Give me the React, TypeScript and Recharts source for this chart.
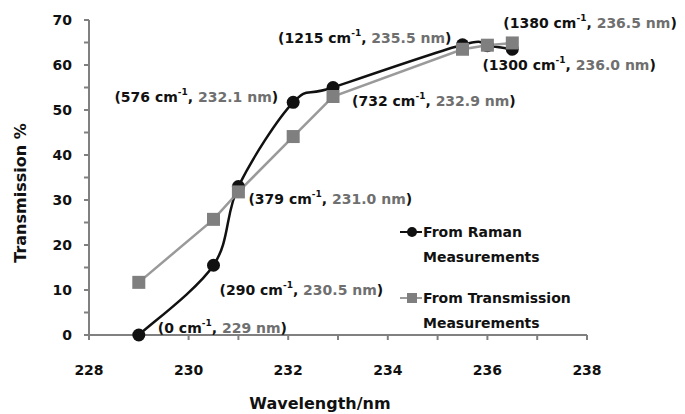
import React from 'react';
import { LineChart, Line, XAxis, YAxis, Legend, LabelList, Label } from 'recharts';

const wavelengths = [229, 230.5, 231.0, 232.1, 232.9, 235.5, 236.0, 236.5];
const wavelengthLabels = ['229', '230.5', '231.0', '232.1', '232.9', '235.5', '236.0', '236.5'];
const wavenumbers = [0, 290, 379, 576, 732, 1215, 1300, 1380];
const ramanValues = [0, 15.5, 33, 51.7, 55, 64.5, 64.3, 63.5];
const transmissionValues = [11.7, 25.7, 31.8, 44.1, 53, 63.5, 64.4, 64.9];
const xTicks = [228, 229, 230, 231, 232, 233, 234, 235, 236, 237, 238];
const yTicks = [0, 5, 10, 15, 20, 25, 30, 35, 40, 45, 50, 55, 60, 65, 70];

const data = wavelengths.map((w, i) => ({
  w,
  raman: ramanValues[i],
  trans: transmissionValues[i],
}));

// annotation placement relative to each Raman point (style only)
const placement = [
  { dx: 19, dy: -7, anchor: 'start' },
  { dx: 6, dy: 25, anchor: 'start' },
  { dx: 10, dy: 12, anchor: 'start' },
  { dx: -15, dy: -5, anchor: 'end' },
  { dx: 19, dy: 13, anchor: 'start' },
  { dx: -11, dy: -7, anchor: 'end' },
  { dx: -5, dy: 19, anchor: 'start' },
  { dx: -9, dy: -26, anchor: 'start' },
];

const FONT = 'DejaVu Sans, sans-serif';
const BLACK = '#111';
const GRAY_TEXT = '#6f6f6f';
const GRAY_MARK = '#7f7f7f';
const GRAY_LINE = '#9a9a9a';
const AXIS = '#808080';

// Excel-like smoothed line (parametric Catmull-Rom / Bezier)
const smoothCurve = (context: any) => {
  let pts: number[][] = [];
  return {
    areaStart() {},
    areaEnd() {},
    lineStart() {
      pts = [];
    },
    point(x: number, y: number) {
      pts.push([+x, +y]);
    },
    lineEnd() {
      if (!pts.length) return;
      context.moveTo(pts[0][0], pts[0][1]);
      for (let i = 0; i < pts.length - 1; i++) {
        const p0 = pts[i - 1] || pts[i];
        const p1 = pts[i];
        const p2 = pts[i + 1];
        const p3 = pts[i + 2] || p2;
        const c1x = p1[0] + (p2[0] - p0[0]) / 6;
        const c1y = p1[1] + (p2[1] - p0[1]) / 6;
        const c2x = p2[0] - (p3[0] - p1[0]) / 6;
        const c2y = p2[1] - (p3[1] - p1[1]) / 6;
        context.bezierCurveTo(c1x, c1y, c2x, c2y, p2[0], p2[1]);
      }
    },
  };
};

const Annotation = (props: any) => {
  const { x, y, index } = props;
  const p = placement[index];
  if (!p) return null;
  return (
    <text
      x={x + p.dx}
      y={y + p.dy}
      textAnchor={p.anchor}
      dominantBaseline="central"
      fontFamily={FONT}
      fontWeight="bold"
      fontSize={14}
    >
      <tspan fill={BLACK}>({wavenumbers[index]} cm</tspan>
      <tspan fill={BLACK} fontSize={9} dy={-5}>-1</tspan>
      <tspan fill={BLACK} dy={5}>, </tspan>
      <tspan fill={GRAY_TEXT}>{wavelengthLabels[index]} nm</tspan>
      <tspan fill={BLACK}>)</tspan>
    </text>
  );
};

const SquareDot = (props: any) => {
  const { cx, cy, index } = props;
  if (cx == null || cy == null) return <g key={index} />;
  return <rect key={index} x={cx - 6.5} y={cy - 6.5} width={13} height={13} fill={GRAY_MARK} />;
};

const CircleDot = (props: any) => {
  const { cx, cy, index } = props;
  if (cx == null || cy == null) return <g key={index} />;
  return <circle key={index} cx={cx} cy={cy} r={6.5} fill={BLACK} />;
};

const legendItems = [
  { lines: ['From Raman', 'Measurements'], type: 'circle' },
  { lines: ['From Transmission', 'Measurements'], type: 'square' },
];

const LegendContent = () => (
  <svg width={200} height={120} style={{ overflow: 'visible' }}>
    {legendItems.map((it, i) => {
      const cy = 10 + i * 66;
      return (
        <g key={i}>
          <line x1={2} x2={24} y1={cy} y2={cy} stroke={it.type === 'circle' ? BLACK : GRAY_LINE} strokeWidth={2} />
          {it.type === 'circle' ? (
            <circle cx={14} cy={cy} r={5} fill={BLACK} />
          ) : (
            <rect x={9} y={cy - 5} width={10} height={10} fill={GRAY_MARK} />
          )}
          {it.lines.map((t, j) => (
            <text
              key={j}
              x={25}
              y={cy + j * 25}
              dominantBaseline="central"
              fontFamily={FONT}
              fontWeight="bold"
              fontSize={14}
              fill={BLACK}
            >
              {t}
            </text>
          ))}
        </g>
      );
    })}
  </svg>
);

const XTick = (props: any) => {
  const { x, y, payload } = props;
  if (payload.value % 2 !== 0) return <g />;
  return (
    <text x={x} y={y} dy="0.71em" textAnchor="middle" fontFamily={FONT} fontWeight="bold" fontSize={14} fill={BLACK}>
      {payload.value}
    </text>
  );
};

const YTick = (props: any) => {
  const { x, y, payload } = props;
  if (payload.value % 10 !== 0) return <g />;
  return (
    <text x={x} y={y} dominantBaseline="central" textAnchor="end" fontFamily={FONT} fontWeight="bold" fontSize={14} fill={BLACK}>
      {payload.value}
    </text>
  );
};

export default function App() {
  return (
    <div style={{ position: 'absolute', left: 0, top: 0, background: '#fff' }}>
      <LineChart width={685} height={414} data={data} margin={{ top: 20, right: 98, left: 29, bottom: 0 }}>
        <XAxis
          dataKey="w"
          type="number"
          domain={[228, 238]}
          ticks={xTicks}
          interval={0}
          height={79}
          stroke={AXIS}
          strokeWidth={2}
          tickSize={5}
          tickMargin={25}
          tick={<XTick />}
          allowDataOverflow
        >
          <Label
            content={(p: any) => {
              const vb = p.viewBox;
              return (
                <text
                  x={vb.x + vb.width / 2 - 18}
                  y={vb.y + 68}
                  textAnchor="middle"
                  dominantBaseline="central"
                  fontFamily={FONT}
                  fontWeight="bold"
                  fontSize={16}
                  fill={BLACK}
                >
                  Wavelength/nm
                </text>
              );
            }}
          />
        </XAxis>
        <YAxis
          type="number"
          domain={[0, 70]}
          ticks={yTicks}
          interval={0}
          width={60}
          stroke={AXIS}
          strokeWidth={2}
          tickSize={5}
          tickMargin={12}
          tick={<YTick />}
        >
          <Label
            content={() => {
              const cx = 20;
              const cy = 193;
              return (
                <text
                  x={cx}
                  y={cy}
                  transform={`rotate(-90 ${cx} ${cy})`}
                  textAnchor="middle"
                  dominantBaseline="central"
                  fontFamily={FONT}
                  fontWeight="bold"
                  fontSize={16}
                  fill={BLACK}
                >
                  Transmission %
                </text>
              );
            }}
          />
        </YAxis>
        <Legend
          layout="vertical"
          align="center"
          verticalAlign="middle"
          content={<LegendContent />}
          wrapperStyle={{ left: 398, top: 222, width: 200, height: 120 }}
        />
        <Line
          dataKey="raman"
          name="From Raman Measurements"
          type={smoothCurve as any}
          stroke={BLACK}
          strokeWidth={2.5}
          dot={<CircleDot />}
          isAnimationActive={false}
        >
          <LabelList dataKey="raman" content={<Annotation />} />
        </Line>
        <Line
          dataKey="trans"
          name="From Transmission Measurements"
          type="linear"
          stroke={GRAY_LINE}
          strokeWidth={2.5}
          dot={<SquareDot />}
          isAnimationActive={false}
        />
      </LineChart>
    </div>
  );
}
